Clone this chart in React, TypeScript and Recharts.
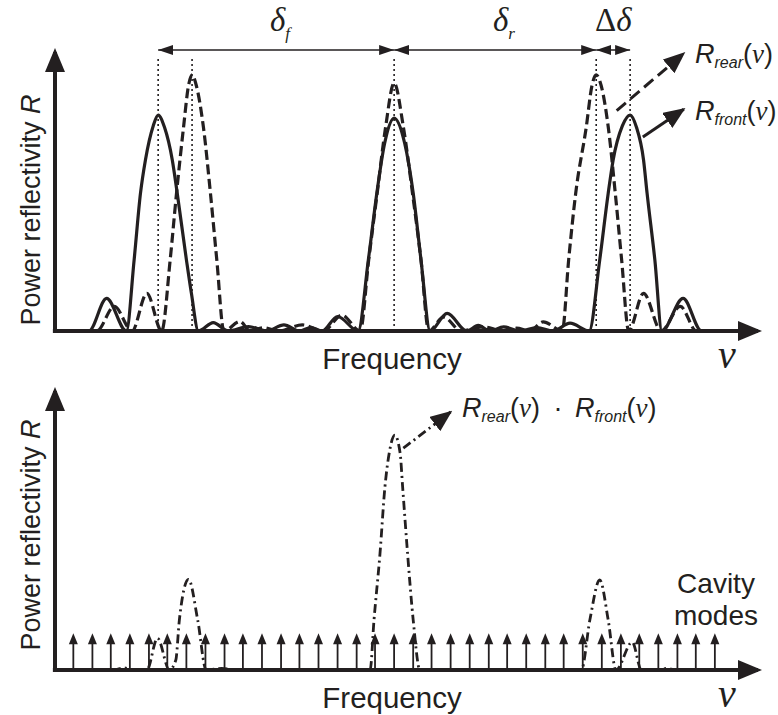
import React from "react";
import {
  LineChart,
  ComposedChart,
  Line,
  Bar,
  XAxis,
  YAxis,
  ReferenceLine,
} from "recharts";

const INK = "#231f20";
const SANS = "'Liberation Sans', Arial, sans-serif";
const SERIF = "'Liberation Serif', 'Times New Roman', serif";

// frequency in arbitrary units, 0 = where both combs coincide
const freqDomain = [-48, 51.5];
const reflDomain = [0, 1];

const frontPeaks = [-33.4, 0, 33.4];
const rearPeaks = [-28.6, 0, 28.6];

// R_front(nu), solid
const frontNu = [
  -48, -43.2, -40.7, -37.9, -36.8, -35.9, -35.2, -34.1, -33.4, -32.5, -31.4,
  -30.7, -29.4, -28.7, -27.7, -25.6, -23.5, -20.6, -18.0, -15.6, -13.4, -11.8,
  -10.2, -8.0, -5.1, -3.65, -2.45, -1.35, 0, 1.5, 2.7, 3.8, 5.1, 7.5, 10.3,
  11.9, 13.6, 15.5, 17.8, 20.2, 22.5, 24.9, 27.6, 29.1, 30.3, 31.0, 32.3, 33.4,
  34.3, 35.3, 35.8, 36.9, 37.9, 40.9, 43.5, 51.5,
];
const frontR = [
  0, 0, 0.117, 0, 0.255, 0.494, 0.613, 0.735, 0.774, 0.73, 0.613, 0.494, 0.255,
  0.136, 0, 0.03, 0, 0.016, 0, 0.022, 0, 0.012, 0, 0.052, 0, 0.255, 0.494,
  0.672, 0.763, 0.672, 0.494, 0.255, 0, 0.063, 0, 0.02, 0, 0.015, 0, 0.012, 0,
  0.028, 0, 0.255, 0.494, 0.613, 0.735, 0.774, 0.73, 0.613, 0.494, 0.255, 0,
  0.117, 0, 0,
];

// R_rear(nu), dashed
const rearNu = [
  -48, -42.1, -39.6, -37.1, -35.0, -32.9, -31.7, -30.8, -29.8, -29.1, -28.6,
  -28.0, -27.0, -26.0, -25.1, -24.1, -21.8, -20.4, -18.5, -16.4, -13.0, -10.0,
  -7.4, -4.8, -3.6, -2.4, -1.2, 0, 1.3, 2.6, 3.8, 4.9, 7.0, 9.5, 12.5, 15.5,
  17.3, 19.2, 21.1, 23.8, 24.7, 25.7, 27.2, 28.0, 28.6, 29.3, 30.3, 31.3, 32.2,
  33.2, 35.3, 37.8, 40.5, 42.8, 51.5,
];
const rearR = [
  0, 0, 0.088, 0, 0.135, 0, 0.255, 0.494, 0.732, 0.88, 0.918, 0.88, 0.732,
  0.494, 0.255, 0, 0.034, 0, 0.012, 0, 0.022, 0, 0.057, 0, 0.255, 0.494, 0.732,
  0.889, 0.732, 0.494, 0.255, 0, 0.05, 0, 0.015, 0, 0.01, 0, 0.033, 0, 0.255,
  0.494, 0.732, 0.88, 0.918, 0.88, 0.732, 0.494, 0.255, 0, 0.135, 0, 0.088, 0,
  0,
];

// R_rear * R_front, dash-dot
const productNu = [
  -48, -39.6, -38.3, -37.0, -35.0, -33.5, -31.8, -30.9, -30.4, -29.1, -27.8,
  -26.6, -24.4, -22.5, -3.4, -2.85, -2.0, -1.3, -0.7, 0.1, 0.85, 1.2, 1.9, 2.7,
  3.65, 26.5, 27.7, 29.1, 30.3, 31.4, 33.7, 35.0, 37.4, 38.6, 39.8, 51.5,
];
const productR = [
  0, 0, 0.008, 0, 0, 0.114, 0, 0.036, 0.179, 0.325, 0.179, 0, 0.006, 0, 0,
  0.179, 0.418, 0.657, 0.777, 0.842, 0.777, 0.657, 0.418, 0.179, 0, 0, 0.179,
  0.323, 0.179, 0, 0.1, 0, 0, 0.006, 0, 0,
];

// longitudinal cavity modes
const cavityModes = [
  -45.4, -42.7, -40.1, -37.4, -34.7, -32.1, -29.4, -26.7, -24.0, -21.4, -18.7,
  -16.0, -13.4, -10.7, -8.0, -5.3, -2.7, 0, 2.7, 5.3, 8.0, 10.7, 13.4, 16.0,
  18.7, 21.4, 24.0, 26.7, 29.4, 32.1, 34.7, 37.4, 40.1, 42.7, 45.4,
];
const modeHeight = 0.132;

const dimLevel = 1.007;

const frontData = frontNu.map((x, i) => ({ x, r: frontR[i] }));
const rearData = rearNu.map((x, i) => ({ x, r: rearR[i] }));
const productData = productNu.map((x, i) => ({ x, r: productR[i] }));
const modeData = cavityModes.map((x) => ({ x, h: modeHeight }));

const margin = { top: 52, right: 20, bottom: 44, left: 55 };

function ModeArrow(props: any) {
  const { x, y, width, height } = props;
  const cx = x + width / 2;
  return (
    <g>
      <line x1={cx} y1={y + height} x2={cx} y2={y + 8} stroke={INK} strokeWidth={1.8} />
      <path d={`M${cx - 4.5},${y + 11} L${cx},${y} L${cx + 4.5},${y + 11} Z`} fill={INK} />
    </g>
  );
}

function RNu({ x, y, sub }: { x: number; y: number; sub: string }) {
  return (
    <text x={x} y={y} fontFamily={SANS} fontSize={27} fill={INK}>
      <tspan fontStyle="italic">R</tspan>
      <tspan fontStyle="italic" fontSize={16} dy={5}>{sub}</tspan>
      <tspan dy={-5}>(</tspan>
      <tspan fontFamily={SERIF} fontStyle="italic">ν</tspan>
      <tspan>)</tspan>
    </text>
  );
}

function axisLines() {
  return [
    <ReferenceLine
      key="ax"
      segment={[{ x: -48.3, y: 0 }, { x: 51.5, y: 0 }]}
      stroke={INK}
      strokeWidth={4}
      markerEnd="url(#axisHead)"
      ifOverflow="visible"
    />,
    <ReferenceLine
      key="ay"
      segment={[{ x: -48, y: 0 }, { x: -48, y: 1 }]}
      stroke={INK}
      strokeWidth={4}
      markerEnd="url(#axisHead)"
      ifOverflow="visible"
    />,
  ];
}

export default function App() {
  const allPeaks = [frontPeaks[0], rearPeaks[0], 0, rearPeaks[2], frontPeaks[2]];
  const spans = [
    [frontPeaks[0], frontPeaks[1]],
    [frontPeaks[1], rearPeaks[2]],
    [rearPeaks[2], frontPeaks[2]],
  ];

  return (
    <div style={{ position: "absolute", left: 0, top: 0, width: 778, height: 715, background: "#fff" }}>
      <div style={{ position: "absolute", left: 0, top: 0 }}>
        <LineChart width={778} height={375} margin={margin}>
          <XAxis type="number" dataKey="x" domain={freqDomain} allowDataOverflow hide />
          <YAxis type="number" domain={reflDomain} allowDataOverflow hide />
          {allPeaks.map((p, i) => (
            <ReferenceLine
              key={"v" + i}
              segment={[{ x: p, y: 0 }, { x: p, y: 0.985 }]}
              stroke={INK}
              strokeWidth={1.6}
              strokeDasharray="2 3"
              ifOverflow="visible"
            />
          ))}
          {spans.map(([a, b], i) => (
            <ReferenceLine
              key={"d" + i}
              segment={[{ x: a, y: dimLevel }, { x: b, y: dimLevel }]}
              stroke={INK}
              strokeWidth={1.6}
              markerStart="url(#dimHead)"
              markerEnd="url(#dimHead)"
              ifOverflow="visible"
            />
          ))}
          <Line
            data={rearData}
            dataKey="r"
            type="monotone"
            stroke={INK}
            strokeWidth={3.2}
            strokeDasharray="10 4.5"
            dot={false}
            activeDot={false}
            isAnimationActive={false}
          />
          <Line
            data={frontData}
            dataKey="r"
            type="monotone"
            stroke={INK}
            strokeWidth={3.2}
            dot={false}
            activeDot={false}
            isAnimationActive={false}
          />
          <ReferenceLine
            segment={[{ x: 31.5, y: 0.79 }, { x: 41.0, y: 0.995 }]}
            stroke={INK}
            strokeWidth={3}
            strokeDasharray="12 6"
            markerEnd="url(#labelHead)"
            ifOverflow="visible"
          />
          <ReferenceLine
            segment={[{ x: 35.2, y: 0.695 }, { x: 41.0, y: 0.795 }]}
            stroke={INK}
            strokeWidth={3}
            markerEnd="url(#labelHead)"
            ifOverflow="visible"
          />
          {axisLines()}
        </LineChart>
      </div>

      <div style={{ position: "absolute", left: 0, top: 339 }}>
        <ComposedChart width={778} height={376} margin={{ ...margin, bottom: 45 }} data={modeData}>
          <XAxis type="number" dataKey="x" domain={freqDomain} allowDataOverflow hide />
          <YAxis type="number" domain={reflDomain} allowDataOverflow hide />
          <Bar dataKey="h" barSize={8} shape={ModeArrow} isAnimationActive={false} />
          <Line
            data={productData}
            dataKey="r"
            type="monotone"
            stroke={INK}
            strokeWidth={2.8}
            strokeDasharray="9 4 2 4"
            dot={false}
            activeDot={false}
            isAnimationActive={false}
          />
          <ReferenceLine
            segment={[{ x: 1.3, y: 0.795 }, { x: 8.0, y: 0.925 }]}
            stroke={INK}
            strokeWidth={2.8}
            strokeDasharray="9 4 2 4"
            markerEnd="url(#labelHead)"
            ifOverflow="visible"
          />
          {axisLines()}
        </ComposedChart>
      </div>

      <svg
        width={778}
        height={715}
        style={{ position: "absolute", left: 0, top: 0, pointerEvents: "none" }}
      >
        <defs>
          <marker id="axisHead" markerUnits="userSpaceOnUse" markerWidth={24} markerHeight={20} refX={20} refY={10} orient="auto">
            <path d="M0,0 L24,10 L0,20 Z" fill={INK} />
          </marker>
          <marker id="dimHead" markerUnits="userSpaceOnUse" markerWidth={15} markerHeight={10} refX={15} refY={5} orient="auto-start-reverse">
            <path d="M0,0 L15,5 L0,10 Z" fill={INK} />
          </marker>
          <marker id="labelHead" markerUnits="userSpaceOnUse" markerWidth={22} markerHeight={18} refX={20} refY={9} orient="auto">
            <path d="M0,0 L22,9 L0,18 Z" fill={INK} />
          </marker>
        </defs>

        <g fill={INK} fontFamily={SANS}>
          <text transform="translate(40 210) rotate(-90)" textAnchor="middle" fontSize={27}>
            Power reflectivity <tspan fontStyle="italic">R</tspan>
          </text>
          <text transform="translate(40 535) rotate(-90)" textAnchor="middle" fontSize={27}>
            Power reflectivity <tspan fontStyle="italic">R</tspan>
          </text>
          <text x={392} y={369} textAnchor="middle" fontSize={29.5}>Frequency</text>
          <text x={392} y={708} textAnchor="middle" fontSize={29.5}>Frequency</text>
          <text x={727} y={368} textAnchor="middle" fontFamily={SERIF} fontStyle="italic" fontSize={40}>ν</text>
          <text x={727} y={707} textAnchor="middle" fontFamily={SERIF} fontStyle="italic" fontSize={40}>ν</text>

          <text x={270} y={31} fontFamily={SERIF} fontSize={33}>
            <tspan fontStyle="italic">δ</tspan>
            <tspan fontStyle="italic" fontSize={17} dy={8}>f</tspan>
          </text>
          <text x={493} y={31} fontFamily={SERIF} fontSize={33}>
            <tspan fontStyle="italic">δ</tspan>
            <tspan fontStyle="italic" fontSize={17} dy={8}>r</tspan>
          </text>
          <text x={595} y={31} fontFamily={SERIF} fontSize={33}>
            <tspan>Δ</tspan>
            <tspan fontStyle="italic">δ</tspan>
          </text>

          <RNu x={695} y={63} sub="rear" />
          <RNu x={695} y={120} sub="front" />

          <RNu x={462} y={417} sub="rear" />
          <text x={558} y={417} textAnchor="middle" fontSize={27}>·</text>
          <RNu x={575} y={417} sub="front" />

          <text x={716} y={593} textAnchor="middle" fontSize={28}>Cavity</text>
          <text x={716} y={625} textAnchor="middle" fontSize={28}>modes</text>
        </g>
      </svg>
    </div>
  );
}
